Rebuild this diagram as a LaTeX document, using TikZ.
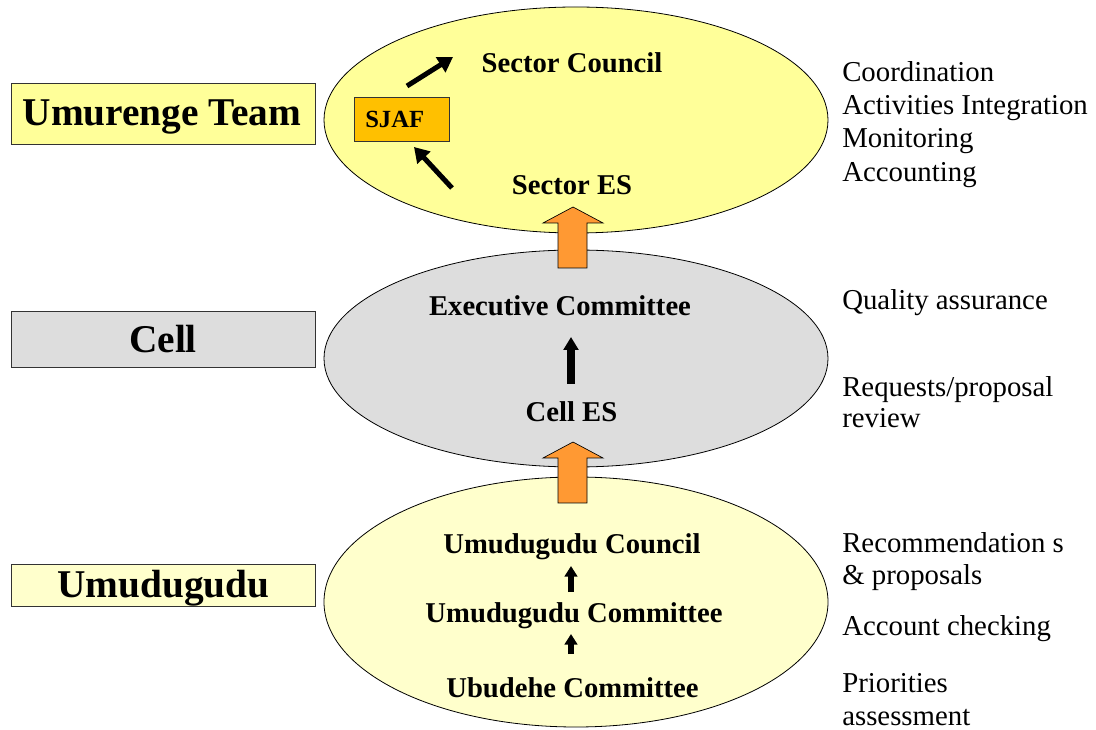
\documentclass[tikz,border=0pt]{standalone}
\usepackage{fontspec}
\setmainfont{Liberation Serif}
\usetikzlibrary{shapes.geometric,arrows.meta}
\definecolor{yel}{HTML}{FFFF99}
\definecolor{paleyel}{HTML}{FFFFCC}
\definecolor{gry}{HTML}{DDDDDD}
\definecolor{gold}{HTML}{FFC000}
\definecolor{orng}{HTML}{FF9933}
\tikzset{
  oval/.style={ellipse,draw=black,line width=0.6pt,minimum width=378pt,inner sep=0pt},
  levelbox/.style={rectangle,draw=black!80,line width=0.7pt,minimum width=228pt,inner sep=0pt},
  leveltext/.style={anchor=base,inner sep=0pt,font=\bfseries\fontsize{29.5}{32}\selectfont},
  inner/.style={anchor=base,inner sep=0pt,font=\bfseries\fontsize{21.5}{25}\selectfont},
  role/.style={anchor=base west,inner sep=0pt,font=\fontsize{21.6}{25}\selectfont},
  blockarrow/.style={fill=orng,draw=black,line width=0.5pt},
  bigarrow/.style={line width=3.75pt,-{Triangle[length=11pt,width=13pt]}},
  midarrow/.style={line width=6pt,-{Triangle[length=9.75pt,width=11pt]}},
  smallarrow/.style={line width=4.5pt,-{Triangle[length=8pt,width=9.5pt]}}
}
\begin{document}
\begin{tikzpicture}[x=0.75pt,y=-0.75pt]
\useasboundingbox (0,0) rectangle (1096,730);
% ellipses
\node[oval,fill=yel,minimum height=169.5pt] (top) at (576,120) {};
\node[oval,fill=gry,minimum height=162.75pt] (mid) at (576,358.5) {};
\node[oval,fill=paleyel,minimum height=187.5pt] (bot) at (576,602) {};
% left boxes
\node[levelbox,fill=yel,minimum height=45.75pt] (umurenge) at (163,113.5) {};
\node[levelbox,fill=gry,minimum height=42pt] (cellbox) at (163,339) {};
\node[levelbox,fill=paleyel,minimum height=31.5pt] (umubox) at (163,585) {};
\node[leveltext] (umurengeT) at (162,126) {Umurenge Team};
\node[leveltext] (cellT) at (163,353) {Cell};
\node[leveltext] (umuT) at (163.5,597) {Umudugudu};
% SJAF
\node[rectangle,draw=black!80,line width=0.6pt,fill=gold,minimum width=71.25pt,minimum height=33pt] (sjaf) at (401.5,119) {};
\node[anchor=base west,inner sep=0pt,font=\bfseries\fontsize{18.5}{20}\selectfont] (sjafT) at (365,128) {SJAF};
% inner texts
\node[inner] (council) at (572,73) {Sector Council};
\node[inner] (sectores) at (572,195) {Sector ES};
\node[inner] (exec) at (560,316) {Executive Committee};
\node[inner] (celles) at (571.5,422) {Cell ES};
\node[inner] (ucouncil) at (572,553) {Umudugudu Council};
\node[inner] (ucomm) at (574,622) {Umudugudu Committee};
\node[inner] (ubudehe) at (572.5,697) {Ubudehe Committee};
% black arrows
\coordinate (a1s) at (407,86); \coordinate (a1e) at (453,57);
\coordinate (a2s) at (452,188); \coordinate (a2e) at (414,147);
\draw[bigarrow] (a1s) -- (a1e);
\draw[bigarrow] (a2s) -- (a2e);
\coordinate (a3s) at (571,384); \coordinate (a3e) at (571,337);
\draw[midarrow] (a3s) -- (a3e);
\coordinate (a4s) at (571,592); \coordinate (a4e) at (571,566);
\coordinate (a5s) at (571,654); \coordinate (a5e) at (571,634);
\draw[smallarrow] (a4s) -- (a4e);
\draw[smallarrow] (a5s) -- (a5e);
% orange block arrows
\draw[blockarrow] (558,268) -- (558,223) -- (543,223) -- (573,207) -- (603,223) -- (587,223) -- (587,268) -- cycle;
\draw[blockarrow] (558,503) -- (558,458) -- (543,458) -- (573,442) -- (603,458) -- (587,458) -- (587,503) -- cycle;
% role texts
\node[role] (r1) at (842,82) {Coordination};
\node[role] (r2) at (842,115) {Activities Integration};
\node[role] (r3) at (842,148) {Monitoring};
\node[role] (r4) at (842,182) {Accounting};
\node[role] (r5) at (842,310) {Quality assurance};
\node[role] (r6) at (842,397) {Requests/proposal};
\node[role] (r7) at (842,428) {review};
\node[role] (r8) at (842,552) {Recommendation s};
\node[role] (r9) at (842,585) {\& proposals};
\node[role] (r10) at (842,635) {Account checking};
\node[role] (r11) at (842,692) {Priorities};
\node[role] (r12) at (842,725) {assessment};
\end{tikzpicture}
\end{document}
